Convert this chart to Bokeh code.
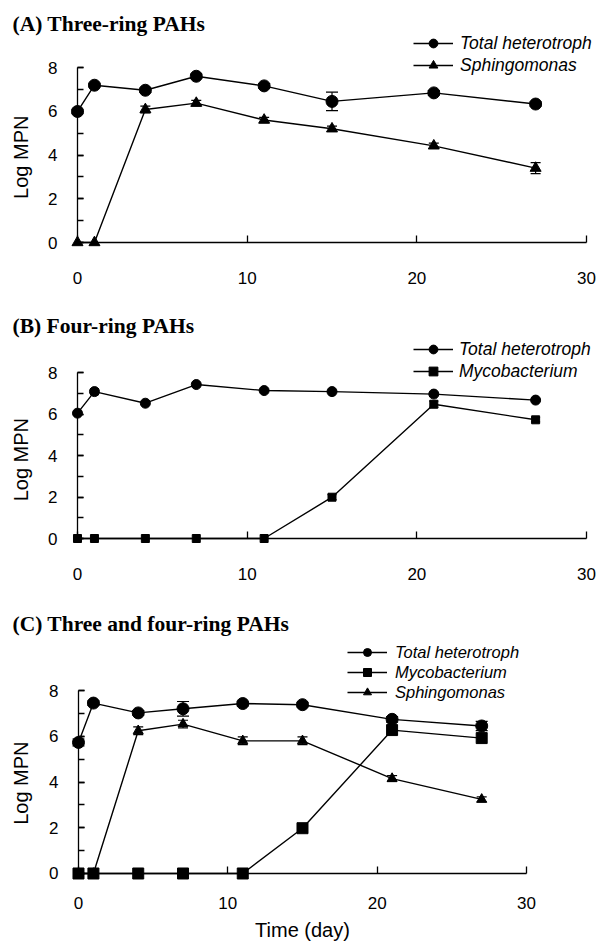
import math
from bokeh.plotting import figure
from bokeh.layouts import column
from bokeh.models import (Range1d, SingleIntervalTicker, Legend, LegendItem, Label,
                          Whisker, TeeHead, ColumnDataSource)
from bokeh.embed import file_html
from bokeh.resources import INLINE

# ---------------- data ----------------
days = [0, 1, 4, 7, 11, 15, 21, 27]

a_total = [5.99, 7.19, 6.96, 7.60, 7.16, 6.45, 6.84, 6.33]
a_total_err = [0.10, 0.08, 0.10, 0.10, 0.10, 0.42, 0.10, 0.10]
a_sphingo = [0, 0, 6.08, 6.37, 5.60, 5.20, 4.42, 3.40]
a_sphingo_err = [0, 0, 0.15, 0.13, 0.12, 0.12, 0.12, 0.25]

b_total = [6.04, 7.08, 6.52, 7.42, 7.13, 7.08, 6.96, 6.67]
b_total_err = [0.08, 0.15, 0.06, 0.06, 0.05, 0.05, 0.06, 0.06]
b_myco = [0, 0, 0, 0, 0, 1.99, 6.47, 5.72]
b_myco_err = [0, 0, 0, 0, 0, 0.12, 0.15, 0.10]

c_total = [5.73, 7.45, 7.02, 7.20, 7.43, 7.38, 6.74, 6.45]
c_total_err = [0.15, 0.10, 0.10, 0.32, 0.10, 0.10, 0.12, 0.20]
c_myco = [0, 0, 0, 0, 0, 1.98, 6.27, 5.92]
c_myco_err = [0, 0, 0, 0, 0, 0.10, 0.15, 0.15]
c_sphingo = [0, 0, 6.24, 6.53, 5.80, 5.80, 4.15, 3.24]
c_sphingo_err = [0, 0, 0.17, 0.17, 0.17, 0.17, 0.13, 0.11]

x_ticks_interval = 10
y_ticks_interval = 2

SANS = "Liberation Sans"
SERIF = "Liberation Serif"


def make_panel(height, x_rng, y_rng, series, title, title_y, ylab_y,
               leg_vx, leg_vy, leg_h, leg_font, leg_standoff, lab_standoff, xlabel=None):
    p = figure(width=602, height=height, output_backend="svg", toolbar_location=None,
               x_range=Range1d(*x_rng), y_range=Range1d(*y_rng),
               min_border_left=0, min_border_right=0, min_border_top=0,
               min_border_bottom=0)
    p.outline_line_color = None
    p.xgrid.visible = False
    p.ygrid.visible = False
    p.background_fill_color = "white"
    p.border_fill_color = "white"

    for ax in (p.xaxis, p.yaxis):
        ax.fixed_location = 0
        ax.axis_line_color = "black"
        ax.axis_line_width = 1.3
        ax.major_tick_line_color = "black"
        ax.major_tick_line_width = 1.3
        ax.minor_tick_line_color = "black"
        ax.minor_tick_line_width = 1.3
        ax.major_label_text_font = SANS
        ax.major_label_text_font_size = "17px"
        ax.major_label_text_color = "black"
    p.xaxis.ticker = SingleIntervalTicker(interval=x_ticks_interval, num_minor_ticks=0)
    p.xaxis.bounds = (0, 30)
    p.xaxis.major_tick_in = 7
    p.xaxis.major_tick_out = 0
    p.xaxis.major_label_standoff = lab_standoff
    p.yaxis.ticker = SingleIntervalTicker(interval=y_ticks_interval, num_minor_ticks=2)
    p.yaxis.bounds = (0, 8)
    p.yaxis.major_tick_in = 6
    p.yaxis.major_tick_out = 0
    p.yaxis.minor_tick_in = 6
    p.yaxis.minor_tick_out = 0
    p.yaxis.major_label_standoff = 20
    if xlabel:
        p.xaxis.axis_label = xlabel
        p.xaxis.axis_label_text_font = SANS
        p.xaxis.axis_label_text_font_size = "20px"
        p.xaxis.axis_label_text_font_style = "normal"
        p.xaxis.axis_label_text_color = "black"
        p.xaxis.axis_label_standoff = 6

    items = {}
    for (label, vals, errs, marker, size, cap) in series:
        src = ColumnDataSource(dict(x=days, y=vals))
        lr = p.line("x", "y", source=src, line_color="black", line_width=1.4)
        ex = [d for d, e in zip(days, errs) if e > 0]
        ey = [v for v, e in zip(vals, errs) if e > 0]
        ee = [e for e in errs if e > 0]
        if ex:
            wsrc = ColumnDataSource(dict(x=ex, upper=[v + e for v, e in zip(ey, ee)],
                                         lower=[v - e for v, e in zip(ey, ee)]))
            w = Whisker(base="x", upper="upper", lower="lower", source=wsrc,
                        line_color="black", line_width=1.2, level="glyph",
                        upper_head=TeeHead(size=cap, line_color="black", line_width=1.2),
                        lower_head=TeeHead(size=cap, line_color="black", line_width=1.2))
            p.add_layout(w)
        sr = p.scatter("x", "y", source=src, marker=marker, size=size, fill_color="black",
                       line_color="black", level="overlay")
        items[label] = LegendItem(label=label, renderers=[lr, sr])

    order = [s[0] for s in series]
    leg_order = [l for l in ["Total heterotroph", "Mycobacterium", "Sphingomonas"] if l in order]
    legend = Legend(items=[items[l] for l in leg_order], location=(leg_vx, leg_vy),
                    orientation="vertical", glyph_width=40, glyph_height=leg_h,
                    label_height=leg_h, spacing=0, padding=0, margin=0,
                    label_standoff=leg_standoff,
                    border_line_color=None, background_fill_alpha=0,
                    label_text_font=SANS, label_text_font_style="italic",
                    label_text_font_size=leg_font, label_text_color="black")
    p.add_layout(legend)

    p.add_layout(Label(x=12, x_units="screen", y=title_y, y_units="screen", text=title,
                       text_font=SERIF, text_font_style="bold", text_font_size="21.5px",
                       text_align="left", text_baseline="middle", text_color="black"))
    p.add_layout(Label(x=20, x_units="screen", y=ylab_y, y_units="data", text="Log MPN",
                       angle=math.pi / 2, text_font=SANS, text_font_size="20px",
                       text_align="center", text_baseline="middle", text_color="black"))
    return p


# panel A: 0 at (77, 242), 30 at x=586, 8 at y=67 ; figure 602 x 300
pA = make_panel(300, (-4.538, 30.942), (-2.651, 11.063),
                [("Total heterotroph", a_total, a_total_err, "circle", 12, 12),
                 ("Sphingomonas", a_sphingo, a_sphingo_err, "triangle", 11, 10)],
                "(A) Three-ring PAHs", 277, 3.9, 413, 224, 22, "17.5px", 7, 29)

# panel B: figure top 300, 0 at y=538, 8 at y=372 ; height 290
pB = make_panel(290, (-4.538, 30.942), (-2.506, 11.470),
                [("Total heterotroph", b_total, b_total_err, "circle", 10, 9),
                 ("Mycobacterium", b_myco, b_myco_err, "square", 8, 9)],
                "(B) Four-ring PAHs", 265, 3.8, 413, 208, 22, "17.5px", 6, 29)

# panel C: figure top 590, 0 at (78, 873), 30 at x=526, 8 at y=690 ; height 351
pC = make_panel(351, (-5.223, 35.09), (-2.973, 12.372),
                [("Sphingomonas", c_sphingo, c_sphingo_err, "triangle", 10, 10),
                 ("Mycobacterium", c_myco, c_myco_err, "square", 11, 10),
                 ("Total heterotroph", c_total, c_total_err, "circle", 12, 12)],
                "(C) Three and four-ring PAHs", 318, 3.95, 347, 239, 20, "16.5px", 8, 24,
                xlabel="Time (day)")

layout = column(pA, pB, pC, spacing=0)
open("out.html", "w").write(file_html(layout, INLINE))
